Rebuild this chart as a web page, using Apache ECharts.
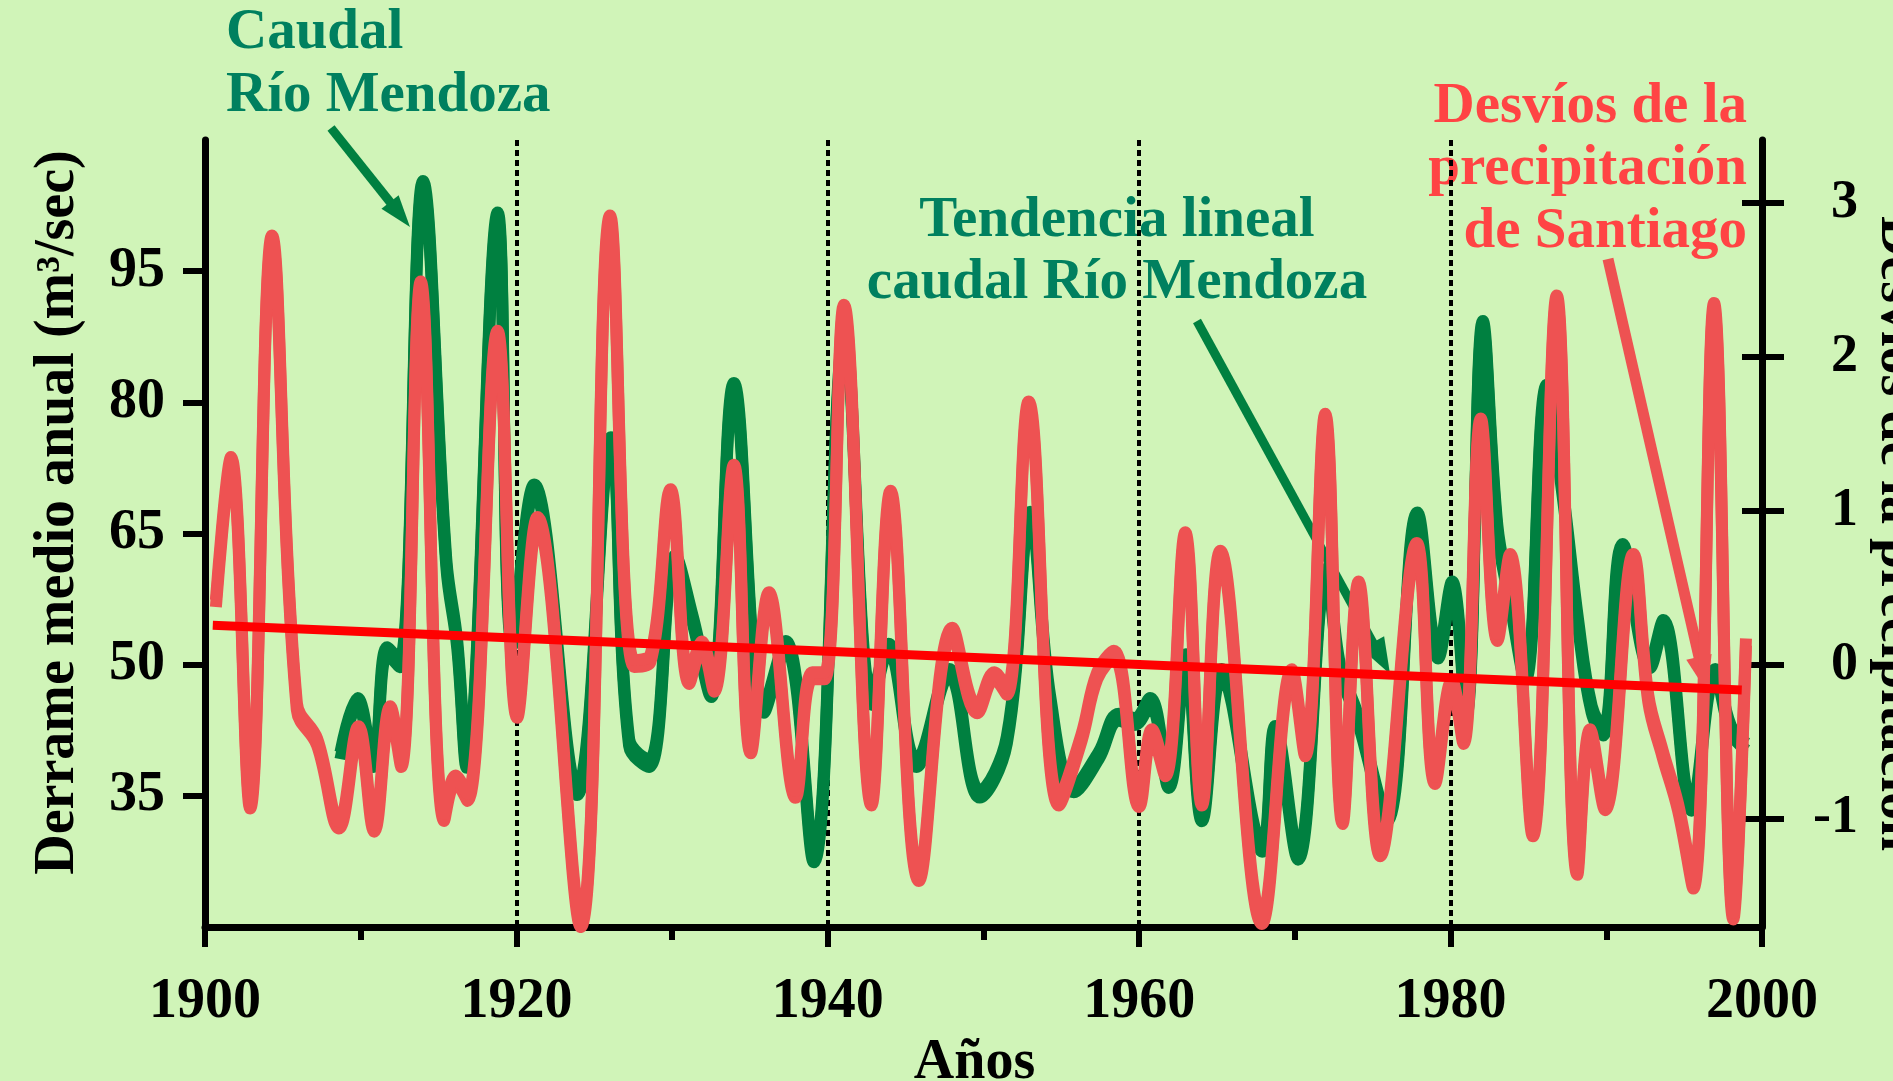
<!DOCTYPE html>
<html><head><meta charset="utf-8">
<script src="https://cdn.jsdelivr.net/npm/echarts@6.0.0/dist/echarts.min.js"></script>
<style>html,body{margin:0;padding:0;background:#D0F4B8;}#c{width:1893px;height:1081px;}</style>
</head><body><div id="c"></div>
<script>
// Caudal Río Mendoza (m3/sec), [year, value]
const caudal = [[1908.7,40.0],[1909.8,46.2],[1910.8,39.1],[1911.7,52.0],[1912.5,50.5],[1914.0,105.3],[1915.5,62],[1916.2,52.7],[1916.8,39.0],[1918.8,101.7],[1919.75,53.0],[1921.14,70.6],[1923.9,35.9],[1926.06,76.0],[1927.24,41.5],[1928.52,39.1],[1930.2,62.5],[1931.3,55.7],[1932.5,47.1],[1933.97,82.2],[1935.9,45.3],[1937.3,52.7],[1939.1,28.2],[1941.1,88.0],[1942.86,46.2],[1943.9,52.4],[1945.7,39.1],[1947.8,49.5],[1949.77,35.6],[1951.5,41.8],[1953.0,67.5],[1954.3,46.2],[1955.8,36.2],[1957.4,40.0],[1958.7,44.4],[1959.7,43.9],[1960.7,46.2],[1961.9,36.7],[1963.0,51.2],[1964.03,32.9],[1965.3,49.5],[1967.9,29.4],[1968.74,43.0],[1970.2,28.5],[1972.05,61.0],[1972.9,50.0],[1974.0,44.5],[1975.9,32.9],[1977.87,67.4],[1979.2,51.5],[1980.1,59.5],[1981.0,45.0],[1982.07,89.3],[1983.0,66],[1983.8,58],[1984.8,49],[1986.18,82.0],[1987.2,70],[1988.2,55],[1989.06,45.3],[1989.8,42.7],[1991.05,63.8],[1992.8,50.4],[1993.66,55.1],[1995.48,34.1],[1997.0,49.5],[1998.0,43.0],[1999.0,41.0]];
// Desvíos de la precipitación de Santiago, [year, value]
const precip = [[1900.7,0.42],[1901.67,1.35],[1902.9,-0.89],[1904.3,2.79],[1905.9,-0.25],[1907.2,-0.48],[1908.6,-1.02],[1909.86,-0.40],[1910.87,-1.04],[1911.9,-0.27],[1912.6,-0.62],[1913.86,2.49],[1915.36,-0.97],[1916.1,-0.72],[1916.86,-0.84],[1918.79,2.17],[1920.05,-0.30],[1921.35,0.96],[1924.13,-1.66],[1926.02,2.92],[1927.56,0.03],[1928.6,0.06],[1929.9,1.14],[1931.1,-0.08],[1931.9,0.15],[1932.7,-0.13],[1933.97,1.30],[1935.05,-0.53],[1936.22,0.47],[1937.93,-0.82],[1939.0,-0.05],[1939.8,-0.05],[1941.04,2.34],[1942.8,-0.87],[1944.03,1.13],[1945.85,-1.36],[1948.0,0.24],[1949.6,-0.27],[1950.7,-0.05],[1951.5,-0.15],[1952.9,1.71],[1954.84,-0.87],[1956.3,-0.45],[1957.3,-0.05],[1958.37,0.09],[1960.0,-0.88],[1960.82,-0.42],[1961.68,-0.68],[1962.96,0.86],[1964.03,-0.87],[1965.21,0.74],[1967.88,-1.64],[1969.81,-0.03],[1970.66,-0.55],[1971.95,1.63],[1973.06,-0.99],[1974.09,0.54],[1975.48,-1.20],[1977.83,0.79],[1979.0,-0.73],[1980.08,-0.10],[1980.83,-0.47],[1981.94,1.60],[1983.01,0.20],[1983.82,0.72],[1985.28,-1.07],[1986.82,2.40],[1988.14,-1.32],[1988.96,-0.42],[1989.92,-0.90],[1991.74,0.72],[1992.7,-0.2],[1993.6,-0.55],[1994.6,-0.9],[1995.59,-1.41],[1996.92,2.35],[1998.16,-1.61],[1998.97,0.17]];
// Tendencia lineal caudal Río Mendoza
const trend = [[1900.5,54.5],[1998.7,47.1]];
// axis ranges / ticks
const xRange = [1900, 2000];
const leftRange = [20, 110];
const leftInterval = 15;
const rightRange = [-1.705, 3.41];
const rightTicks = [-1, 0, 1, 2, 3];

const FONT = '"Liberation Serif", "Times New Roman", serif';
const GREEN = '#008040', GREEN_TXT = '#00805F', SALMON = '#EE5252', RED = '#FF0000', RED_TXT = '#FF4444';
const txt = (size) => ({fontFamily: FONT, fontWeight: 'bold', fontSize: size, color: '#000'});

function arrow(S, E, color, w, hl, hw) {
  const dx = E[0]-S[0], dy = E[1]-S[1], len = Math.hypot(dx, dy);
  const ux = dx/len, uy = dy/len, nx = -uy, ny = ux;
  const B = [E[0]-ux*hl, E[1]-uy*hl];
  return [
    {type:'line', shape:{x1:S[0], y1:S[1], x2:B[0]+ux*4, y2:B[1]+uy*4}, style:{stroke:color, lineWidth:w}},
    {type:'polygon', shape:{points:[E, [B[0]+nx*hw, B[1]+ny*hw], [B[0]-nx*hw, B[1]-ny*hw]]}, style:{fill:color}}
  ];
}
function label(text, x, baseline, color, align) {
  return {type:'text', x: x, y: baseline - 17, style:{text:text, font:'bold 57px ' + FONT, fill:color, textAlign:align, textVerticalAlign:'middle'}};
}

const chart = echarts.init(document.getElementById('c'), null, {renderer:'canvas'});
const axisLineStyle = {color:'#000', width:7};
chart.setOption({
  backgroundColor: '#D0F4B8',
  animation: false,
  grid: {left:205, right:131, top:140, bottom:154, containLabel:false, outerBoundsMode:'none'},
  xAxis: {
    type:'value', min:xRange[0], max:xRange[1], interval:20,
    axisLine:{onZero:false, lineStyle:axisLineStyle},
    axisTick:{length:20, lineStyle:{color:'#000', width:6}},
    minorTick:{show:true, splitNumber:2, length:13, lineStyle:{color:'#000', width:6}},
    splitLine:{show:true, lineStyle:{color:'#000', width:4, type:[6,4]}},
    axisLabel:Object.assign(txt(56), {margin:48, formatter:(v) => String(v)}),
    name:'Años', nameLocation:'middle', nameGap:96,
    nameTextStyle:Object.assign(txt(56), {padding:[0,18,0,0]})
  },
  yAxis: [
    {
      type:'value', min:leftRange[0], max:leftRange[1], interval:leftInterval, position:'left',
      axisLine:{show:true, onZero:false, lineStyle:axisLineStyle},
      axisTick:{show:true, length:22, lineStyle:{color:'#000', width:6}},
      axisLabel:Object.assign(txt(56), {margin:40, showMinLabel:false, showMaxLabel:false}),
      splitLine:{show:false},
      name:'Derrame medio anual (m³/sec)', nameLocation:'middle', nameRotate:90, nameGap:118,
      nameTextStyle:Object.assign(txt(56), {padding:[0,0,0,42]})
    },
    {
      type:'value', min:rightRange[0], max:rightRange[1], position:'right',
      axisLine:{show:true, onZero:false, lineStyle:axisLineStyle},
      axisTick:{show:true, length:22, customValues:rightTicks, lineStyle:{color:'#000', width:6}},
      axisLabel:Object.assign(txt(54), {margin:96, align:'right', customValues:rightTicks}),
      splitLine:{show:false},
      name:'Desvíos de la precipitación', nameLocation:'middle', nameRotate:-90, nameGap:103,
      nameTextStyle:txt(56)
    },
    {
      type:'value', min:rightRange[0], max:rightRange[1], position:'right',
      axisLine:{show:false, onZero:false},
      axisTick:{show:true, inside:true, length:20, customValues:rightTicks, lineStyle:{color:'#000', width:6}},
      axisLabel:{show:false}, splitLine:{show:false}
    }
  ],
  series: [
    {type:'line', name:'Caudal Río Mendoza', yAxisIndex:0, data:caudal, smooth:0.4, symbol:'none', z:2,
     lineStyle:{color:GREEN, width:12, shadowColor:GREEN, shadowBlur:0, shadowOffsetY:7}},
    {type:'line', name:'Desvíos de la precipitación de Santiago', yAxisIndex:1, data:precip, smooth:0.4, symbol:'none', z:3,
     lineStyle:{color:SALMON, width:12, shadowColor:SALMON, shadowBlur:0, shadowOffsetY:7}},
    {type:'line', name:'Tendencia lineal', yAxisIndex:0, data:trend, symbol:'none', z:4,
     lineStyle:{color:RED, width:9}}
  ],
  graphic: [].concat(
    [label('Caudal', 226, 50, GREEN_TXT, 'left'),
     label('Río Mendoza', 226, 113, GREEN_TXT, 'left'),
     label('Tendencia lineal', 1117, 238, GREEN_TXT, 'center'),
     label('caudal Río Mendoza', 1117, 300, GREEN_TXT, 'center'),
     label('Desvíos de la', 1747, 124, RED_TXT, 'right'),
     label('precipitación', 1747, 186, RED_TXT, 'right'),
     label('de Santiago', 1747, 249, RED_TXT, 'right')],
    arrow([331,128],[410,227], GREEN, 9, 32, 11),
    arrow([1197,321],[1390,674], GREEN, 9, 36, 13),
    arrow([1608,259],[1707,692], SALMON, 11, 36, 13)
  )
});
</script></body></html>
